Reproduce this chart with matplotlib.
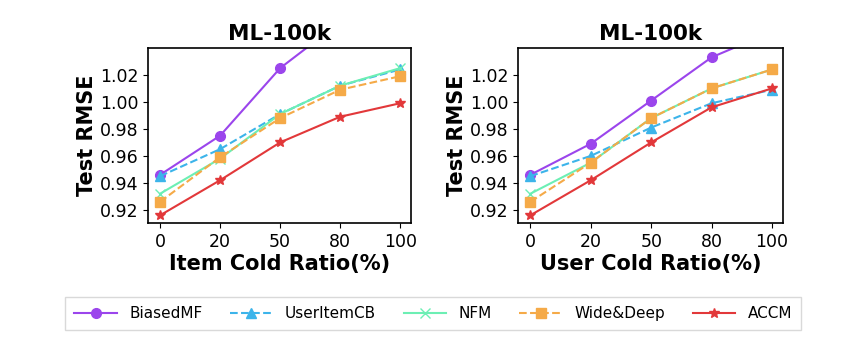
import matplotlib
matplotlib.use("Agg")
import matplotlib.pyplot as plt

ratios = ["0", "20", "50", "80", "100"]
methods = ["BiasedMF", "UserItemCB", "NFM", "Wide&Deep", "ACCM"]

# item cold ratio (left panel)
item_biasedmf = [0.946, 0.975, 1.025, 1.059, 1.090]
item_useritemcb = [0.945, 0.965, 0.991, 1.012, 1.024]
item_nfm = [0.932, 0.958, 0.991, 1.012, 1.025]
item_widedeep = [0.926, 0.959, 0.988, 1.009, 1.019]
item_accm = [0.916, 0.942, 0.970, 0.989, 0.999]

# user cold ratio (right panel)
user_biasedmf = [0.946, 0.969, 1.001, 1.033, 1.052]
user_useritemcb = [0.945, 0.960, 0.981, 0.999, 1.009]
user_nfm = [0.932, 0.955, 0.988, 1.010, 1.024]
user_widedeep = [0.926, 0.955, 0.988, 1.010, 1.024]
user_accm = [0.916, 0.942, 0.970, 0.996, 1.010]

styles = {
    "BiasedMF": dict(color="#9b45ec", marker="o", ls="-", ms=7),
    "UserItemCB": dict(color="#3cb4ea", marker="^", ls="--", ms=7),
    "NFM": dict(color="#6cefb4", marker="x", ls="-", ms=7),
    "Wide&Deep": dict(color="#f5aa48", marker="s", ls="--", ms=7),
    "ACCM": dict(color="#e2383a", marker="*", ls="-", ms=7),
}

fig = plt.figure(figsize=(8.51, 3.37), dpi=100)
ax1 = fig.add_axes([0.174, 0.337, 0.309, 0.521])
ax2 = fig.add_axes([0.609, 0.337, 0.311, 0.521])

panels = [
    (ax1, [item_biasedmf, item_useritemcb, item_nfm, item_widedeep, item_accm], "Item Cold Ratio(%)"),
    (ax2, [user_biasedmf, user_useritemcb, user_nfm, user_widedeep, user_accm], "User Cold Ratio(%)"),
]

x = list(range(len(ratios)))
for ax, series, xlabel in panels:
    for name, vals in zip(methods, series):
        st = styles[name]
        ax.plot(x, vals, color=st["color"], marker=st["marker"], linestyle=st["ls"],
                markersize=st["ms"], linewidth=1.5, label=name)
    ax.set_xticks(x)
    ax.set_xticklabels(ratios)
    ax.set_ylim(0.91, 1.04)
    ax.set_yticks([0.92, 0.94, 0.96, 0.98, 1.00, 1.02])
    ax.set_yticklabels(["0.92", "0.94", "0.96", "0.98", "1.00", "1.02"])
    ax.set_xlim(-0.2, 4.18)
    ax.tick_params(labelsize=12.5)
    ax.set_title("ML-100k", fontsize=15.5, fontweight="bold")
    ax.set_xlabel(xlabel, fontsize=15, fontweight="bold", labelpad=2)
    ax.set_ylabel("Test RMSE", fontsize=15, fontweight="bold", labelpad=2)
    for sp in ax.spines.values():
        sp.set_linewidth(1.2)

handles, labels = ax1.get_legend_handles_labels()
fig.legend(handles, labels, loc="center", bbox_to_anchor=(0.509, 0.07), ncol=5,
           fontsize=11, frameon=True, fancybox=False, edgecolor="#d0d0d0",
           handlelength=2.8, columnspacing=1.8, borderpad=0.6)

plt.savefig("out.png", dpi=100)
plt.close(fig)
